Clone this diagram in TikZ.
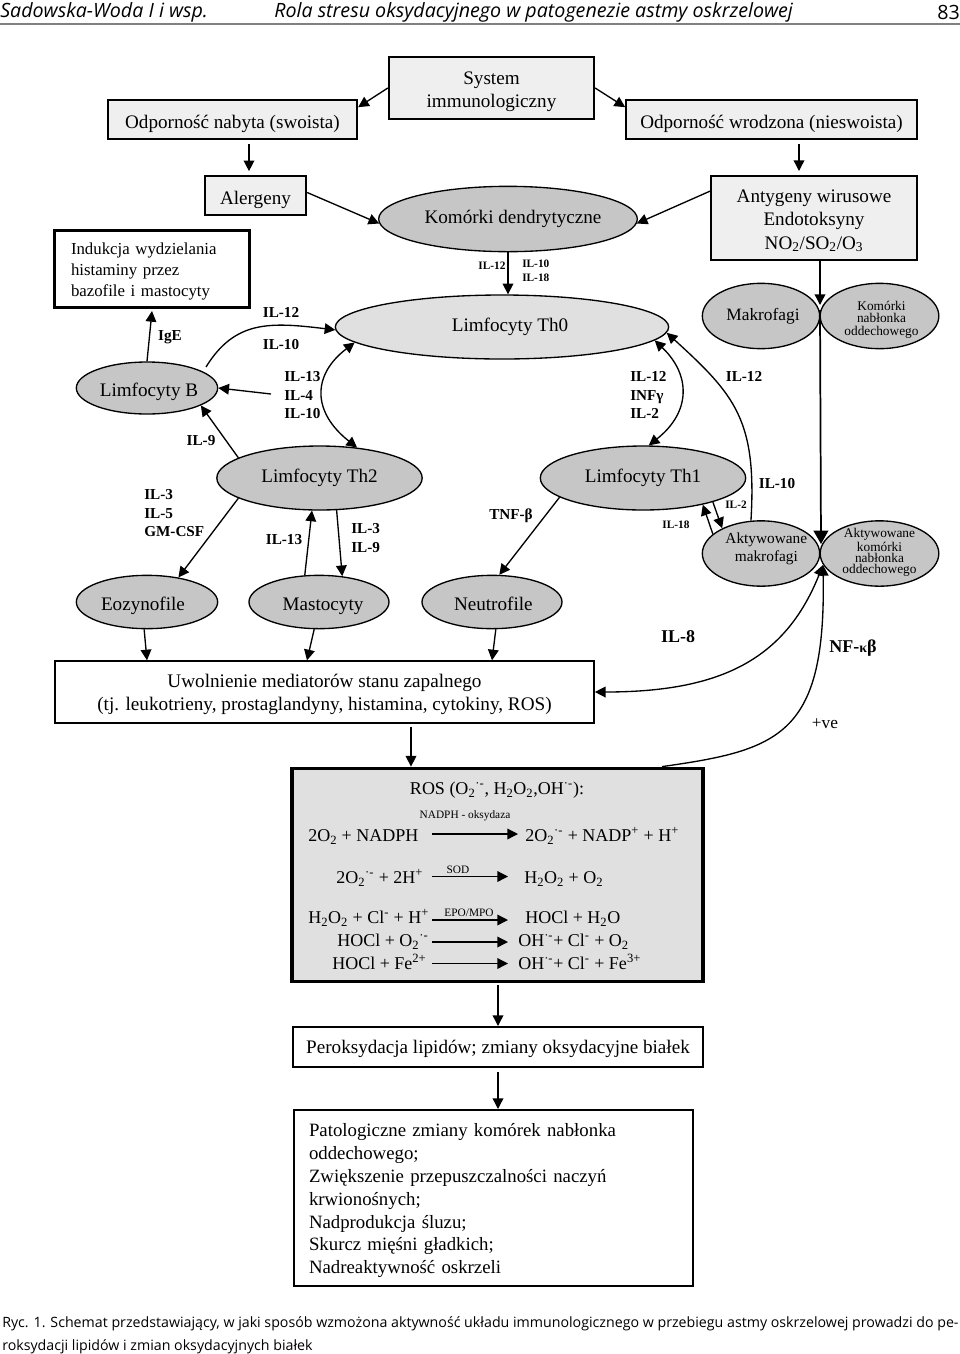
\documentclass[tikz,border=0pt]{standalone}
\usepackage{fontspec}
\setmainfont{Liberation Serif}
\newfontfamily\capfont{Open Sans}
\usetikzlibrary{positioning,shapes.geometric,arrows.meta}
\definecolor{boxgray}{HTML}{EFEFEF}
\definecolor{rosgray}{HTML}{E0E0E0}
\definecolor{cellgray}{HTML}{C6C6C6}
\newcommand{\rad}{\textsuperscript{·-}}
\newcommand{\dn}[1]{\textsubscript{#1}}
\newcommand{\up}[1]{\textsuperscript{#1}}
\tikzset{
  every picture/.style={x=0.75pt,y=-0.75pt},
  conn/.style={-{Triangle[length=8pt,width=8pt]},line width=1pt},
  thickconn/.style={-{Triangle[length=10pt,width=11pt]},line width=1.3pt},
  twoconn/.style={{Triangle[length=8pt,width=8pt]}-{Triangle[length=8pt,width=8pt]},line width=1pt},
  grybox/.style={draw,line width=1.5pt,fill=boxgray,font=\fontsize{14.35}{17.3}\selectfont,align=center,inner sep=0pt},
  whtbox/.style={draw,line width=1.5pt,fill=white,font=\fontsize{14.35}{17.3}\selectfont,align=center,inner sep=0pt},
  cell/.style={draw,ellipse,line width=1pt,fill=cellgray,font=\fontsize{14.35}{18}\selectfont,align=center,inner sep=0pt,inner xsep=-4pt},
  smallcell/.style={cell,font=\fontsize{10}{9.4}\selectfont},
  lowtxt/.style={text height=14pt,text depth=1pt},
  il/.style={font=\bfseries\fontsize{11.4}{14}\selectfont,align=left,inner sep=0pt},
  tinyil/.style={font=\bfseries\fontsize{8.5}{10.5}\selectfont,align=left,inner sep=0pt},
  bigil/.style={font=\bfseries\fontsize{13.5}{16}\selectfont,inner sep=0pt},
  eqn/.style={font=\fontsize{13.5}{16}\selectfont,inner sep=0pt,anchor=west,text height=10pt,text depth=3pt},
  enz/.style={font=\fontsize{8.5}{10}\selectfont,inner sep=0pt},
}
\begin{document}
\begin{tikzpicture}
  \useasboundingbox (0,0) rectangle (960,1354);
  \node (headleft) [anchor=west,inner sep=0pt,font=\capfont\itshape\fontsize{14.75}{18}\selectfont] at (0,12) {Sadowska-Woda I i wsp.};
  \node (headmid) [anchor=west,inner sep=0pt,font=\capfont\itshape\fontsize{14.75}{18}\selectfont] at (274,12) {Rola stresu oksydacyjnego w patogenezie astmy oskrzelowej};
  \node (headnum) [anchor=east,inner sep=0pt,font=\capfont\fontsize{14.75}{18}\selectfont] at (960,12) {83};
  \coordinate (ruleleft) at (0,24);
  \coordinate (ruleright) at (960,24);
  \draw [gray,line width=1.4pt] (ruleleft) -- (ruleright);

  \node (system) [grybox,minimum width=154pt,minimum height=46pt,text height=32.5pt] at (491.5,88) {System\\immunologiczny};
  \node (nabyta) [grybox,lowtxt,minimum width=187pt,minimum height=29pt] at (232.5,119.5) {Odporność nabyta (swoista)};
  \node (wrodzona) [grybox,lowtxt,minimum width=218pt,minimum height=29pt] at (771.5,119.5) {Odporność wrodzona (nieswoista)};
  \node (alergeny) [grybox,lowtxt,minimum width=76pt,minimum height=29pt] at (255.5,195.5) {Alergeny};
  \node (antygeny) [grybox,minimum width=154pt,minimum height=63pt,text height=48.8pt] at (814,218) {Antygeny wirusowe\\Endotoksyny\\NO\dn{2}/SO\dn{2}/O\dn{3}};
  \node (indukcja) [whtbox,line width=2pt,minimum width=146pt,minimum height=58pt,text width=121.5pt,align=left,text height=12pt,font=\fontsize{12.6}{15.75}\selectfont] at (152,269) {Indukcja wydzielania\\histaminy przez\\bazofile i mastocyty};
  \node (dendryt) [cell,minimum width=194pt,minimum height=49pt] at (508,219) {\hspace*{7.5pt}Komórki dendrytyczne};
  \node (th0) [cell,fill=rosgray,minimum width=250pt,minimum height=48pt] at (502,327) {\hspace*{12pt}Limfocyty Th0};
  \node (makro) [cell,font=\fontsize{13}{16}\selectfont,minimum width=88pt,minimum height=49pt] at (761,316) {\hspace*{3pt}Makrofagi};
  \node (nablonek) [smallcell,minimum width=89pt,minimum height=49pt,text height=31pt] at (879.5,316) {\hspace*{3pt}Komórki\\\hspace*{3pt}nabłonka\\\hspace*{3pt}oddechowego};
  \node (limfb) [cell,lowtxt,minimum width=106pt,minimum height=39pt] at (147,388) {\hspace*{3pt}Limfocyty B};
  \node (th2) [cell,minimum width=154pt,minimum height=48pt] at (319.5,478) {Limfocyty Th2};
  \node (th1) [cell,minimum width=154pt,minimum height=48pt] at (643,478) {Limfocyty Th1};
  \node (eozyn) [cell,lowtxt,minimum width=106pt,minimum height=40pt] at (147,602) {Eozynofile\hspace*{6pt}};
  \node (masto) [cell,lowtxt,minimum width=105pt,minimum height=40pt] at (319,602) {\hspace*{6pt}Mastocyty};
  \node (neutro) [cell,lowtxt,minimum width=105pt,minimum height=40pt] at (492,602) {\hspace*{2pt}Neutrofile};
  \node (aktmakro) [cell,inner xsep=-16pt,font=\fontsize{11.5}{13.5}\selectfont,minimum width=88pt,minimum height=49pt,text height=14pt] at (761,553.5) {\hspace*{8pt}Aktywowane\\\hspace*{8pt}makrofagi};
  \node (aktnab) [smallcell,font=\fontsize{10}{8.5}\selectfont,minimum width=89pt,minimum height=49pt,text height=32.5pt] at (879.5,553.5) {Aktywowane\\komórki\\nabłonka\\oddechowego};
  \node (uwol) [whtbox,font=\fontsize{14.4}{17.3}\selectfont,minimum width=404pt,minimum height=46pt,text height=31pt] at (324.5,692) {Uwolnienie mediatorów stanu zapalnego\\(tj. leukotrieny, prostaglandyny, histamina, cytokiny, ROS)};
  \node (ros) [draw,line width=2.6pt,fill=rosgray,minimum width=308pt,minimum height=160pt] at (497.5,875) {};
  \node (perok) [whtbox,text height=11pt,text depth=1pt,minimum width=308pt,minimum height=30pt] at (498,1047) {Peroksydacja lipidów; zmiany oksydacyjne białek};
  \node (pato) [whtbox,minimum width=299pt,minimum height=132pt,text width=276.75pt,align=left,text height=14pt,font=\fontsize{14.1}{17.1}\selectfont] at (493.5,1198) {Patologiczne zmiany komórek nabłonka\\oddechowego;\\Zwiększenie przepuszczalności naczyń\\krwionośnych;\\Nadprodukcja śluzu;\\Skurcz mięśni gładkich;\\Nadreaktywność oskrzeli};

  \node (rostitle) [eqn,anchor=center] at (497,790) {ROS (O\dn{2}\rad, H\dn{2}O\dn{2},OH\rad):};
  \node (nadphenz) [enz] at (465,816) {NADPH - oksydaza};
  \node (nadphl) [eqn] at (308,837) {2O\dn{2} + NADPH};
  \node (nadphr) [eqn] at (525,837) {2O\dn{2}\rad{} + NADP\up{+} + H\up{+}};
  \node (sodenz) [enz] at (458,870) {SOD};
  \node (sodl) [eqn] at (336,878.5) {2O\dn{2}\rad{} + 2H\up{+}};
  \node (sodr) [eqn] at (524,878.5) {H\dn{2}O\dn{2} + O\dn{2}};
  \node (epoenz) [enz] at (469,913) {EPO/MPO};
  \node (epol) [eqn] at (308,918.5) {H\dn{2}O\dn{2} + Cl\up{-} + H\up{+}};
  \node (epor) [eqn] at (525,918.5) {HOCl + H\dn{2}O};
  \node (ocll) [eqn] at (337,942) {HOCl + O\dn{2}\rad};
  \node (oclr) [eqn] at (518,942) {OH\rad{}+ Cl\up{-} + O\dn{2}};
  \node (fel) [eqn] at (332,964.5) {HOCl + Fe\up{2+}};
  \node (fer) [eqn] at (518,964.5) {OH\rad{}+ Cl\up{-} + Fe\up{3+}};

  \node (il12top) [tinyil] at (492,266) {IL-12};
  \node (il10top) [tinyil,anchor=north west] at (522,260) {IL-10\\IL-18};
  \node (il12a) [il] at (281,312) {IL-12};
  \node (il10a) [il] at (281,345) {IL-10};
  \node (ige) [il] at (170,337) {IgE};
  \node (il13a) [il,anchor=north west] at (284,371) {IL-13\\IL-4\\IL-10};
  \node (il12b) [il,anchor=north west] at (630,371) {IL-12\\INFγ\\IL-2};
  \node (il12c) [il] at (744,376) {IL-12};
  \node (il9a) [il] at (201,441) {IL-9};
  \node (il3a) [il,anchor=north west] at (144,489) {IL-3\\IL-5\\GM-CSF};
  \node (il13b) [il] at (284,540) {IL-13};
  \node (il3b) [il,anchor=north west] at (351,523) {IL-3\\IL-9};
  \node (tnf) [il] at (511,516) {TNF-β};
  \node (il18) [tinyil] at (676,525) {IL-18};
  \node (il2) [tinyil] at (736,505) {IL-2};
  \node (il10b) [il] at (777,484) {IL-10};
  \node (il8) [bigil] at (678,637) {IL-8};
  \node (nfkb) [bigil] at (853,648) {NF-{\fontsize{10.5}{10}\selectfont κ}β};
  \node (ve) [font=\fontsize{13}{16}\selectfont,inner sep=0pt] at (825,724) {+ve};

  \node (caption) [anchor=north west,inner sep=0pt,align=left,font=\capfont\fontsize{10.65}{17.25}\selectfont] at (2,1316) {Ryc. 1. Schemat przedstawiający, w jaki sposób wzmożona aktywność układu immunologicznego w przebiegu astmy oskrzelowej prowadzi do pe-\\roksydacji lipidów i zmian oksydacyjnych białek};

  \draw [conn] (system.west) -- ([shift={(0,8)}]nabyta.north east);
  \draw [conn] (system.east) -- ([shift={(0,8)}]wrodzona.north west);
  \draw [conn] ([shift={(-6.5,4)}]nabyta.south -| alergeny.center) -- ([shift={(-6.5,-4)}]alergeny.north);
  \draw [conn] ([shift={(-15,4)}]wrodzona.south -| antygeny.center) -- ([shift={(-15,-4)}]antygeny.north);
  \draw [conn] ([shift={(0,-3)}]alergeny.east) -- (dendryt.182);
  \draw [conn] ([shift={(0,-27)}]antygeny.west) -- (dendryt.-2);
  \draw [conn] (dendryt.south) -- (th0.north -| dendryt.south);
  \coordinate (antyout) at (820,260);
  \coordinate (makrin) at (820,305);
  \coordinate (nablout) at (820,310);
  \coordinate (aktin) at (821,544);
  \draw [conn] (antyout) -- (makrin);
  \draw [thickconn] (nablout) -- (aktin);
  \draw [conn] (limfb.north) -- ([shift={(0,2)}]indukcja.south);
  \coordinate (il12out) at (206,367);
  \draw [conn] (il12out) .. controls (235,320) and (270,322) .. (th0.181);
  \draw [twoconn] (th0.186) .. controls (312,375) and (312,412) .. (th2.39);
  \draw [twoconn] (th0.-5.5) .. controls (691,375) and (691,412) .. (th1.80);
  \coordinate (il13out) at (271,394);
  \draw [conn] (il13out) -- (limfb.east);
  \draw [conn] (th2.166) -- (limfb.-18);
  \draw [conn] (th2.194) -- (eozyn.38);
  \draw [conn] (masto.118) -- (th2.-103);
  \draw [conn] (th2.-62) -- (masto.48);
  \draw [conn] (th1.193.7) -- (neutro.75);
  \draw [conn] (aktmakro.158.5) -- (th1.-24);
  \draw [conn] (th1.-19) -- (aktmakro.147);
  \draw [conn] (aktmakro.107) .. controls (757,420) and (735,395) .. (th0.-2);
  \draw [conn] (eozyn.-96) -- (uwol.north -| eozyn.center);
  \draw [conn] (masto.-100) -- ([shift={(-12,0)}]uwol.north -| masto.center);
  \draw [conn] (neutro.-82) -- (uwol.north -| neutro.center);
  \coordinate (cytoin) at (823,565);
  \draw [twoconn] (uwol.east) .. controls (720,692) and (785,660) .. (cytoin);
  \draw [conn] (ros.north -| 662,0) .. controls (780,750) and (826,735) .. (cytoin);
  \draw [conn] ([shift={(0,3)}]uwol.south -| 411,0) -- (ros.north -| 411,0);
  \draw [conn] ([shift={(0,2)}]ros.south -| perok.center) -- (perok.north);
  \draw [conn] ([shift={(0,4)}]perok.south) -- (pato.north -| perok.south);

  \draw [conn] ([shift={(0,-3)}]nadphl.east -| 432,0) -- ([shift={(0,-3)}]nadphr.west -| 518,0);
  \draw [conn] ([shift={(0,-2)}]sodl.east -| 432,0) -- ([shift={(0,-2)}]sodr.west -| 508,0);
  \draw [conn] ([shift={(0,1.5)}]epol.east -| 432,0) -- ([shift={(0,1.5)}]epor.west -| 508,0);
  \draw [conn] (ocll.east -| 432,0) -- (oclr.west -| 508,0);
  \draw [conn] ([shift={(0,-1)}]fel.east -| 432,0) -- ([shift={(0,-1)}]fer.west -| 508,0);
\end{tikzpicture}
\end{document}
